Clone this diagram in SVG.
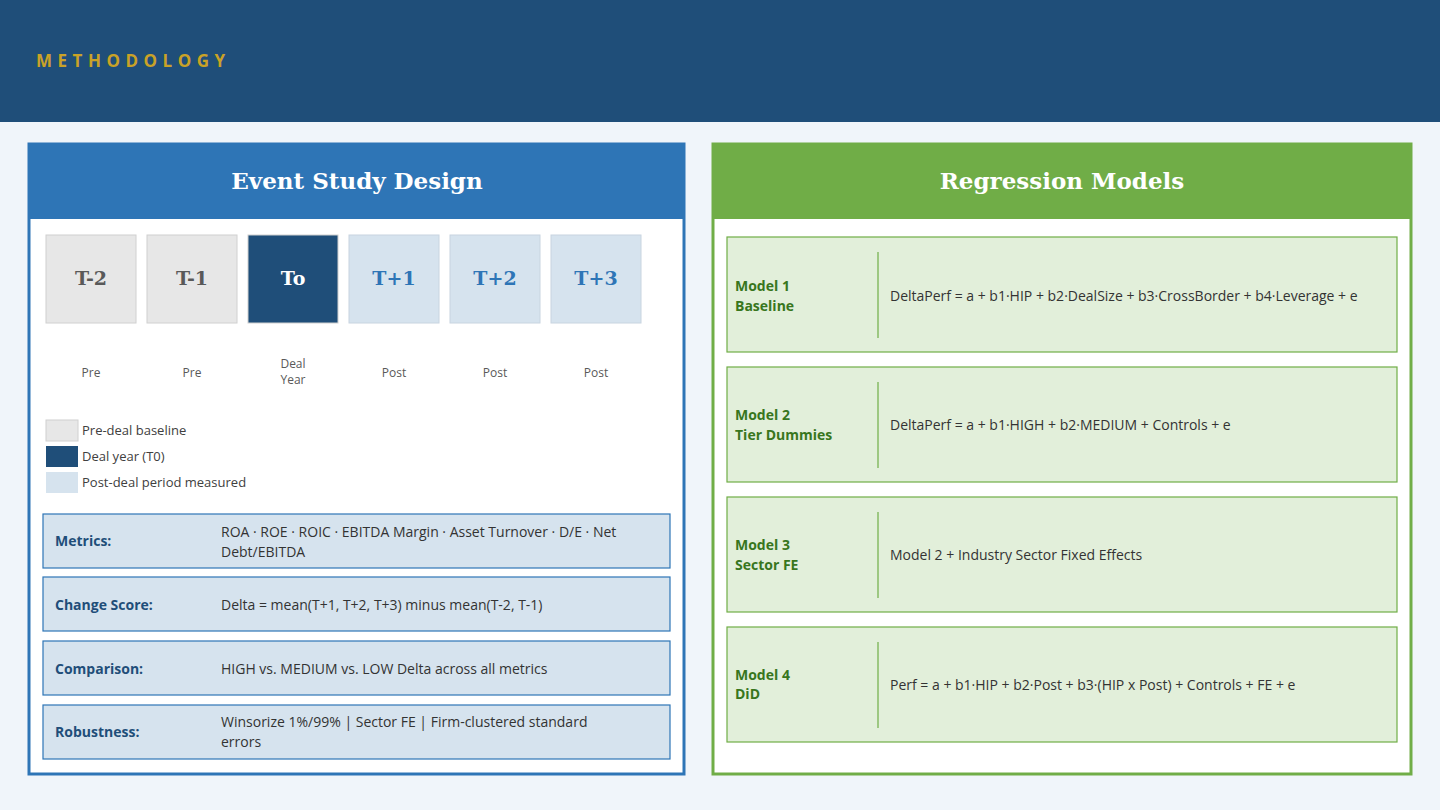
<svg xmlns="http://www.w3.org/2000/svg" width="1440" height="810" viewBox="0 0 1440 810">
<style>
.b{font-family:"Open Sans","Liberation Sans",sans-serif;}
.t{font-family:"DejaVu Serif","Liberation Serif",serif;font-weight:bold;}
.lab{font-family:"Open Sans",sans-serif;font-size:12px;fill:#595959;text-anchor:middle}
.leg{font-family:"Open Sans",sans-serif;font-size:13px;fill:#404040}
.mrow{fill:#d6e3ee;stroke:#2e75b6;stroke-width:1.2}
.ml{font-family:"Open Sans",sans-serif;font-size:14px;font-weight:bold;fill:#1f4e79}
.mt{font-family:"Open Sans",sans-serif;font-size:14px;fill:#333}
.grow{fill:#e2efda;stroke:#70ad47;stroke-width:1.2}
.gl{font-family:"Open Sans",sans-serif;font-size:14px;font-weight:bold;fill:#38761d}
.gt{font-family:"Open Sans",sans-serif;font-size:14px;fill:#333}
.div{stroke:#70ad47;stroke-width:1.2}
</style>
<rect width="1440" height="810" fill="#f0f5fa"/>
<rect width="1440" height="122" fill="#1f4e79"/>
<text x="36" y="67" class="b" font-size="17" font-weight="bold" fill="#c9a227" letter-spacing="5.5">METHODOLOGY</text>

<g id="event-panel">
<rect x="29" y="144" width="655" height="630" fill="#fff" stroke="#2e75b6" stroke-width="3"/>
<rect x="29" y="144" width="655" height="75" fill="#2e75b6"/>
<text x="357" y="189" class="t" font-size="23" fill="#fff" text-anchor="middle">Event Study Design</text>
</g>
<g id="timeline">
<g id="t-2"><rect x="46" y="235" width="90" height="88" fill="#e7e7e7" stroke="#d0d0d0"/><text x="91" y="285" class="t" font-size="19" fill="#595959" text-anchor="middle">T-2</text><text x="91" y="377" class="lab">Pre</text></g>
<g id="t-1"><rect x="147" y="235" width="90" height="88" fill="#e7e7e7" stroke="#d0d0d0"/><text x="192" y="285" class="t" font-size="19" fill="#595959" text-anchor="middle">T-1</text><text x="192" y="377" class="lab">Pre</text></g>
<g id="t0"><rect x="248" y="235" width="90" height="88" fill="#1f4e79" stroke="#d0d0d0"/><text x="293" y="285" class="t" font-size="19" fill="#fff" text-anchor="middle">To</text><text x="293" y="368" class="lab">Deal</text><text x="293" y="384" class="lab">Year</text></g>
<g id="t1"><rect x="349" y="235" width="90" height="88" fill="#d6e3ee" stroke="#c8d4e0"/><text x="394" y="285" class="t" font-size="19" fill="#2e75b6" text-anchor="middle">T+1</text><text x="394" y="377" class="lab">Post</text></g>
<g id="t2"><rect x="450" y="235" width="90" height="88" fill="#d6e3ee" stroke="#c8d4e0"/><text x="495" y="285" class="t" font-size="19" fill="#2e75b6" text-anchor="middle">T+2</text><text x="495" y="377" class="lab">Post</text></g>
<g id="t3"><rect x="551" y="235" width="90" height="88" fill="#d6e3ee" stroke="#c8d4e0"/><text x="596" y="285" class="t" font-size="19" fill="#2e75b6" text-anchor="middle">T+3</text><text x="596" y="377" class="lab">Post</text></g>
</g>
<g id="legend">
<rect x="46" y="420" width="32" height="21" fill="#e7e7e7" stroke="#d0d0d0"/><text x="82" y="435" class="leg">Pre-deal baseline</text>
<rect x="46" y="446" width="32" height="21" fill="#1f4e79"/><text x="82" y="461" class="leg">Deal year (T0)</text>
<rect x="46" y="472" width="32" height="21" fill="#d6e3ee"/><text x="82" y="487" class="leg">Post-deal period measured</text>
</g>
<g id="metrics"><rect x="43" y="514" width="627" height="54" class="mrow"/><text x="55" y="546" class="ml">Metrics:</text><text x="221" y="537" class="mt">ROA · ROE · ROIC · EBITDA Margin · Asset Turnover · D/E · Net</text><text x="221" y="557" class="mt">Debt/EBITDA</text></g>
<g id="change"><rect x="43" y="577" width="627" height="54" class="mrow"/><text x="55" y="610" class="ml">Change Score:</text><text x="221" y="610" class="mt">Delta = mean(T+1, T+2, T+3) minus mean(T-2, T-1)</text></g>
<g id="comparison"><rect x="43" y="641" width="627" height="54" class="mrow"/><text x="55" y="674" class="ml">Comparison:</text><text x="221" y="674" class="mt">HIGH vs. MEDIUM vs. LOW Delta across all metrics</text></g>
<g id="robust"><rect x="43" y="705" width="627" height="54" class="mrow"/><text x="55" y="737" class="ml">Robustness:</text><text x="221" y="727" class="mt">Winsorize 1%/99%  |  Sector FE  |  Firm-clustered standard</text><text x="221" y="747" class="mt">errors</text></g>

<g id="regression-panel">
<rect x="713" y="144" width="698" height="630" fill="#fff" stroke="#70ad47" stroke-width="3"/>
<rect x="713" y="144" width="698" height="75" fill="#70ad47"/>
<text x="1062" y="189" class="t" font-size="23" fill="#fff" text-anchor="middle">Regression Models</text>
</g>
<g id="model1"><rect x="727" y="237" width="670" height="115" class="grow"/><line x1="878" y1="252" x2="878" y2="338" class="div"/><text x="735" y="291" class="gl">Model 1</text><text x="735" y="311" class="gl">Baseline</text><text x="890" y="301" class="gt">DeltaPerf = a + b1·HIP + b2·DealSize + b3·CrossBorder + b4·Leverage + e</text></g>
<g id="model2"><rect x="727" y="367" width="670" height="115" class="grow"/><line x1="878" y1="382" x2="878" y2="468" class="div"/><text x="735" y="420" class="gl">Model 2</text><text x="735" y="440" class="gl">Tier Dummies</text><text x="890" y="430" class="gt">DeltaPerf = a + b1·HIGH + b2·MEDIUM + Controls + e</text></g>
<g id="model3"><rect x="727" y="497" width="670" height="115" class="grow"/><line x1="878" y1="512" x2="878" y2="598" class="div"/><text x="735" y="550" class="gl">Model 3</text><text x="735" y="570" class="gl">Sector FE</text><text x="890" y="560" class="gt">Model 2 + Industry Sector Fixed Effects</text></g>
<g id="model4"><rect x="727" y="627" width="670" height="115" class="grow"/><line x1="878" y1="642" x2="878" y2="728" class="div"/><text x="735" y="680" class="gl">Model 4</text><text x="735" y="699" class="gl">DiD</text><text x="890" y="690" class="gt">Perf = a + b1·HIP + b2·Post + b3·(HIP x Post) + Controls + FE + e</text></g>
<g id="connectors"></g>
</svg>
